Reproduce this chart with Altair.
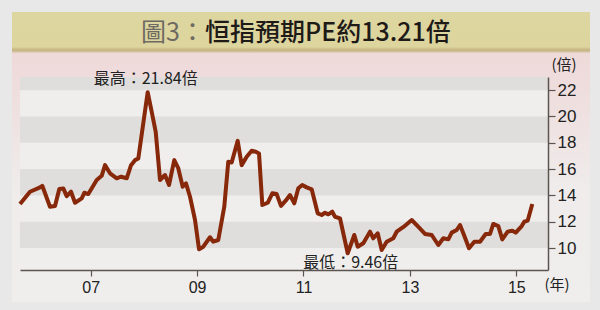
import altair as alt
import pandas as pd

# ---- data (decimal year, forward PE) ----
years = [2005.671, 2005.859, 2006.047, 2006.090, 2006.235, 2006.329, 2006.410, 2006.485,
         2006.549, 2006.630, 2006.705, 2006.831, 2006.880, 2006.955, 2007.113, 2007.207,
         2007.269, 2007.363, 2007.489, 2007.570, 2007.677, 2007.758, 2007.833, 2007.895,
         2008.071, 2008.147, 2008.222, 2008.303, 2008.397, 2008.472, 2008.571, 2008.647,
         2008.729, 2008.791, 2008.867, 2008.961, 2009.036, 2009.117, 2009.242, 2009.305,
         2009.398, 2009.511, 2009.586, 2009.650, 2009.763, 2009.838, 2009.932, 2010.026,
         2010.102, 2010.164, 2010.226, 2010.327, 2010.414, 2010.496, 2010.577, 2010.665,
         2010.746, 2010.827, 2010.902, 2010.977, 2011.060, 2011.154, 2011.267, 2011.342,
         2011.404, 2011.466, 2011.541, 2011.592, 2011.686, 2011.831, 2011.955, 2012.019,
         2012.124, 2012.250, 2012.312, 2012.395, 2012.470, 2012.564, 2012.688, 2012.752,
         2012.880, 2013.034, 2013.160, 2013.284, 2013.410, 2013.534, 2013.628, 2013.722,
         2013.786, 2013.880, 2013.942, 2014.004, 2014.111, 2014.211, 2014.318, 2014.425,
         2014.506, 2014.568, 2014.662, 2014.737, 2014.838, 2014.925, 2014.989, 2015.102,
         2015.150, 2015.214, 2015.301]
pe = [13.34, 14.28, 14.61, 14.73, 13.14, 13.20, 14.48, 14.53,
      13.95, 14.28, 13.44, 13.78, 14.20, 14.10, 15.17, 15.49,
      16.30, 15.68, 15.30, 15.42, 15.30, 16.30, 16.68, 16.81,
      21.84, 20.35, 18.83, 15.17, 15.55, 14.79, 16.68, 16.05,
      14.66, 14.92, 13.90, 12.13, 9.90, 10.10, 10.82, 10.48,
      10.61, 13.14, 16.56, 16.50, 18.15, 16.30, 16.94, 17.39,
      17.32, 17.19, 13.27, 13.44, 14.16, 14.10, 13.20, 13.60,
      14.03, 13.40, 14.54, 14.79, 14.61, 14.46, 12.64, 12.51,
      12.68, 12.56, 12.76, 12.38, 12.26, 9.60, 10.99, 10.10,
      10.36, 11.24, 10.74, 11.12, 9.85, 10.48, 10.74, 11.24,
      11.60, 12.13, 11.60, 11.07, 10.99, 10.23, 10.74, 10.66,
      11.17, 11.37, 11.75, 11.12, 9.98, 10.48, 10.48, 11.07,
      11.07, 11.83, 11.67, 10.66, 11.24, 11.32, 11.17, 11.67,
      12.00, 12.08, 13.35]

band_lo = [10, 14, 18, 22]
band_hi = [12, 16, 20, 23]

x_ticks = [2007, 2009, 2011, 2013, 2015]
y_ticks = [10, 12, 14, 16, 18, 20, 22]

ann_year = [2008.071, 2011.831]
ann_pe = [21.84, 9.60]
ann_text = ["最高：21.84倍", "最低：9.46倍"]

title_a = "圖3："
title_b = "恒指預期PE約13.21倍"

# ---- layout ----
W, H = 528, 193
X_DOM = [2005.671, 2015.596]
Y_DOM = [8.33, 23]
CJK = "Noto Sans CJK TC"
NUM = "Liberation Sans"

df = pd.DataFrame({"year": years, "pe": pe})
bands = pd.DataFrame({"lo": band_lo, "hi": band_hi})
ann = pd.DataFrame({"year": ann_year, "pe": ann_pe, "t": ann_text})
one = alt.Data(values=[{"a": 1}])

xs = alt.Scale(domain=X_DOM, nice=False, zero=False)
ys = alt.Scale(domain=Y_DOM, nice=False, zero=False)

xaxis = alt.Axis(values=x_ticks, format="d", labelExpr="substring(datum.label, 2)",
                 title=None, grid=False, domainColor="#5b5550", domainWidth=1.5,
                 tickColor="#5b5550", tickWidth=1.2, tickSize=6,
                 labelFont=NUM, labelFontSize=16, labelColor="#222",
                 labelPadding=3, labelOverlap=False, zindex=2)
yaxis = alt.Axis(orient="right", values=y_ticks, title=None, grid=False,
                 domainColor="#5b5550", domainWidth=1.5,
                 tickColor="#5b5550", tickWidth=1.2, tickSize=7,
                 labelFont=NUM, labelFontSize=17, labelColor="#222",
                 labelPadding=2, labelOverlap=False, labelFlush=False, zindex=2)

card = alt.Chart(one).mark_rect(
    color=alt.Gradient(gradient="linear",
                       stops=[alt.GradientStop(color="#efd9d9", offset=0),
                              alt.GradientStop(color="#efdcdc", offset=0.12),
                              alt.GradientStop(color="#efeceb", offset=0.55),
                              alt.GradientStop(color="#efeeed", offset=1)],
                       x1=0, x2=0, y1=0, y2=1)
).encode(x=alt.value(-8), x2=alt.value(570), y=alt.value(-27), y2=alt.value(225))

khaki = alt.Chart(one).mark_rect(
    color=alt.Gradient(gradient="linear",
                       stops=[alt.GradientStop(color="#ddd6a0", offset=0),
                              alt.GradientStop(color="#ddd59d", offset=0.85),
                              alt.GradientStop(color="#c4b27e", offset=0.93),
                              alt.GradientStop(color="#e6d2c6", offset=1)],
                       x1=0, x2=0, y1=0, y2=1)
).encode(x=alt.value(-8), x2=alt.value(570), y=alt.value(-65), y2=alt.value(-24))

plotbg = alt.Chart(one).mark_rect(color="#efeeed").encode(
    x=alt.value(0), x2=alt.value(W), y=alt.value(0), y2=alt.value(H))

stripes = alt.Chart(bands).mark_rect(color="#e0dedc").encode(
    x=alt.value(0), x2=alt.value(W),
    y=alt.Y("hi:Q", scale=ys, axis=yaxis), y2="lo:Q")

line = alt.Chart(df).mark_line(color="#862809", strokeWidth=4, strokeJoin="round").encode(
    x=alt.X("year:Q", scale=xs, axis=xaxis),
    y=alt.Y("pe:Q", scale=ys, axis=yaxis))

ann_hi = alt.Chart(ann.iloc[[0]]).mark_text(
    font=CJK, fontSize=16, color="#222", dy=-13, dx=-2).encode(
    x=alt.X("year:Q", scale=xs, axis=xaxis), y=alt.Y("pe:Q", scale=ys, axis=yaxis), text="t:N")
ann_lo = alt.Chart(ann.iloc[[1]]).mark_text(
    font=CJK, fontSize=16, color="#222", dy=10, dx=3).encode(
    x=alt.X("year:Q", scale=xs, axis=xaxis), y=alt.Y("pe:Q", scale=ys, axis=yaxis), text="t:N")

t1 = alt.Chart(one).mark_text(text=title_a, font=CJK, fontSize=25, color="#6e6962",
                              align="right", baseline="middle").encode(
    x=alt.value(185), y=alt.value(-44))
t2 = alt.Chart(one).mark_text(text=title_b, font=CJK, fontSize=25, fontWeight=500,
                              color="#1e1a18", align="left", baseline="middle").encode(
    x=alt.value(185), y=alt.value(-44))

unit_y = alt.Chart(one).mark_text(text="(倍)", font=CJK, fontSize=15, color="#222",
                                  align="center", baseline="middle").encode(
    x=alt.value(544), y=alt.value(-12))
unit_x = alt.Chart(one).mark_text(text="(年)", font=CJK, fontSize=15, color="#222",
                                  align="center", baseline="middle").encode(
    x=alt.value(537), y=alt.value(208))

chart = alt.layer(card, khaki, plotbg, stripes, line, ann_hi, ann_lo, t1, t2, unit_y, unit_x).properties(
    width=W, height=H,
    padding={"left": 20, "top": 77, "right": 52, "bottom": 40},
    autosize=alt.AutoSizeParams(type="none"),
    background="#e8e8e8",
).configure_view(stroke=None)

chart.save("out.html", embed_options={"renderer": "svg", "actions": False})
